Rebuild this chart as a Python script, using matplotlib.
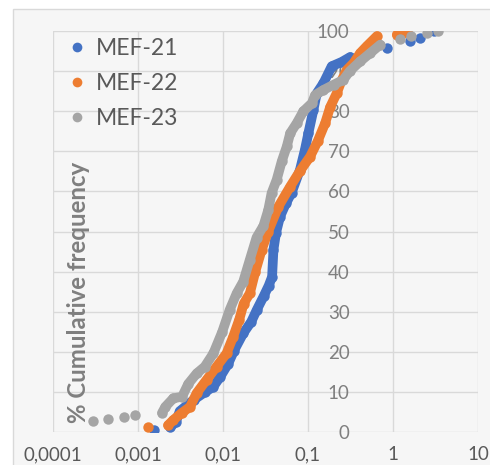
import matplotlib.pyplot as plt
from matplotlib.lines import Line2D
from matplotlib.patches import Rectangle
from matplotlib.ticker import FixedLocator, FuncFormatter, NullLocator

plt.rcParams['font.family'] = ['Lato', 'DejaVu Sans']

# MEF-21 (blue)
x21 = [0.00155, 0.0024, 0.0028, 0.0031, 0.0045, 0.0062, 0.0077, 0.0093, 0.0115, 0.0135,
       0.0173, 0.0215, 0.0249, 0.030, 0.0345, 0.0378, 0.0392, 0.042, 0.0469, 0.055,
       0.064, 0.0805, 0.092, 0.101, 0.116, 0.127, 0.152, 0.19, 0.25, 0.313,
       0.5, 0.85, 1.58, 2.09, 3.0]
y21 = [0.6, 1.2, 2.6, 5.2, 8.0, 10.0, 11.3, 13.8, 17.0, 20.3,
       24.6, 27.5, 30.4, 33.8, 36.5, 38.7, 45.4, 49.6, 53.7, 57.0,
       59.6, 65.4, 70.4, 74.5, 80.4, 84.5, 87.0, 91.2, 92.3, 93.5,
       94.6, 95.8, 97.4, 98.3, 100.0]
runs21 = [(1, 30)]

# MEF-22 (orange)
x22 = [0.0013, 0.00226, 0.0026, 0.00325, 0.0041, 0.0049, 0.0064, 0.0084, 0.011, 0.0132,
       0.0155, 0.0175, 0.0207, 0.024, 0.0285, 0.034, 0.0448, 0.0617, 0.08, 0.106,
       0.13, 0.159, 0.182, 0.218, 0.25, 0.286, 0.343, 0.411, 0.49, 0.645,
       1.11, 1.3, 1.46]
y22 = [1.3, 1.7, 3.0, 4.7, 6.3, 9.7, 13.0, 16.3, 19.6, 23.8,
       28.0, 32.0, 34.6, 40.0, 45.4, 50.0, 56.2, 61.2, 65.0, 68.7,
       72.5, 77.0, 81.0, 84.5, 87.8, 90.3, 92.0, 94.5, 96.2, 98.7,
       99.1, 99.5, 100.0]
runs22 = [(1, 30), (30, 33)]

# MEF-23 (gray)
x23 = [0.000296, 0.000445, 0.00068, 0.00092, 0.00192, 0.0021, 0.0026, 0.0033, 0.0039, 0.0049,
       0.0061, 0.0077, 0.0098, 0.012, 0.0145, 0.0173, 0.0207, 0.0248, 0.0299, 0.0341,
       0.0373, 0.0428, 0.0491, 0.0563, 0.0617, 0.0736, 0.0883, 0.111, 0.121, 0.152,
       0.2, 0.26, 0.31, 0.41, 0.54, 0.71, 1.2, 1.65, 2.5, 3.4]
y23 = [2.8, 3.3, 3.8, 4.2, 4.8, 6.3, 8.4, 8.8, 12.0, 14.6,
       16.3, 19.6, 25.0, 30.5, 34.6, 37.5, 43.0, 48.5, 51.4, 55.4,
       59.6, 62.9, 67.5, 71.2, 74.5, 77.0, 80.0, 82.0, 84.0, 85.3,
       86.6, 87.8, 90.0, 92.4, 94.5, 96.6, 98.0, 98.7, 99.5, 100.0]
runs23 = [(4, 36)]

names = ['MEF-21', 'MEF-22', 'MEF-23']
colors = ['#4472c4', '#ed7d31', '#a5a5a5']
xticks = [0.0001, 0.001, 0.01, 0.1, 1, 10]
xlabels = ['0,0001', '0,001', '0,01', '0,1', '1', '10']

fig = plt.figure(figsize=(4.9, 4.65), dpi=100)
fig.patch.set_facecolor('white')
fig.patches.append(Rectangle((13 / 490, -0.05), 1.0, 1 - 9 / 465 + 0.05, transform=fig.transFigure,
                             facecolor='#f6f6f6', edgecolor='#d9d9d9', lw=1, zorder=-5))

ax = fig.add_axes([53 / 490, 1 - 432 / 465, 425 / 490, 401 / 465])
ax.set_facecolor('none')
ax.set_xscale('log')
ax.set_xlim(1e-4, 10)
ax.set_ylim(0, 100)

series = [(x21, y21, runs21), (x22, y22, runs22), (x23, y23, runs23)]
for (xs, ys, runs), c, n in zip(series, colors, names):
    for a, b in runs:
        ax.plot(xs[a:b], ys[a:b], color=c, lw=7, solid_capstyle='round',
                solid_joinstyle='round', zorder=3)
    ax.plot(xs, ys, 'o', color=c, ms=7.5, mec='none', zorder=3, label=n)

for s in ax.spines.values():
    s.set_visible(False)
ax.spines['left'].set_position(('data', 0.1))

ax.xaxis.set_major_locator(FixedLocator(xticks))
ax.xaxis.set_minor_locator(NullLocator())
ax.xaxis.set_major_formatter(FuncFormatter(lambda v, p: xlabels[xticks.index(v)] if v in xticks else ''))
ax.set_yticks(range(0, 101, 10))
ax.grid(True, color='#d9d9d9', lw=1, zorder=0)
ax.tick_params(axis='x', length=0, pad=10, labelsize=13.5, colors='#595959')
ax.tick_params(axis='y', length=0, pad=-30, labelsize=13.5, colors='#7f7f7f')
for t in ax.get_yticklabels():
    t.set_horizontalalignment('right')

ax.text(0.059, 0.349, '% Cumulative frequency', transform=ax.transAxes, rotation=90,
        ha='center', va='center', fontsize=17.3, fontweight='bold', color='#7f7f7f')

handles = [Line2D([], [], ls='none', marker='o', ms=7, mec='none', color=c) for c in colors]
leg = ax.legend(handles, names, loc='upper left', bbox_to_anchor=(-0.008, 1.035), frameon=False,
                fontsize=16.5, labelcolor='#595959', handlelength=0.6, handletextpad=0.5,
                labelspacing=0.62)

fig.savefig('out.png', dpi=100)
